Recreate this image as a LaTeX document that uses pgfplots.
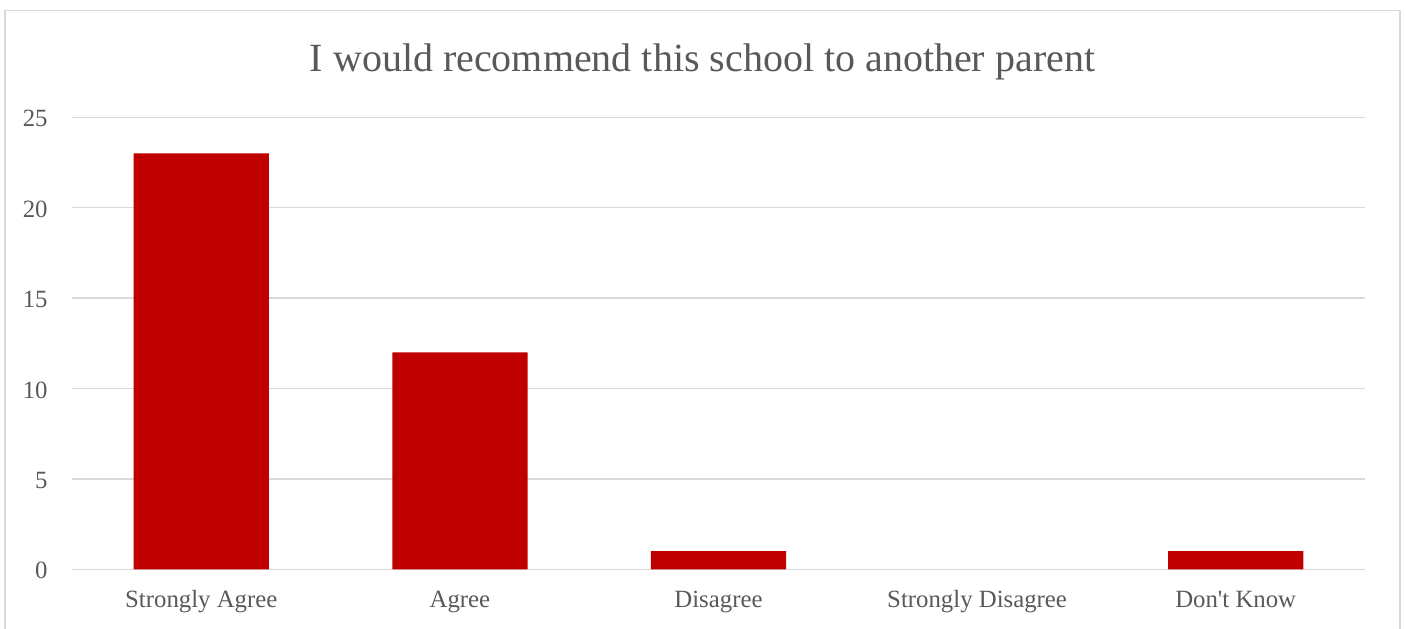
\documentclass[border=0pt]{standalone}
\usepackage{pgfplots}
\pgfplotsset{compat=1.18}
\usepackage{fontspec}
\setmainfont{Liberation Serif}
\definecolor{barred}{HTML}{C00000}
\definecolor{txt}{HTML}{595959}
\definecolor{gridc}{HTML}{D9D9D9}
\begin{document}
\begin{tikzpicture}[x=1pt,y=1pt]
\useasboundingbox (0,0) rectangle (703,314);
\draw[gridc, line width=0.75pt] (2.5,-2) -- (2.5,308.75) -- (700,308.75) -- (700,-2);
\node[anchor=base, font=\fontsize{20}{24}\selectfont, text=txt] at (351.25,278) {I would recommend this school to another parent};
\begin{axis}[
  at={(36pt,29.35pt)}, anchor=south west,
  scale only axis, width=646.5pt, height=226pt,
  xmin=-0.5, xmax=4.5, ymin=0, ymax=25,
  ytick={0,5,10,15,20,25},
  xtick={0,1,2,3,4},
  xticklabels={Strongly Agree, Agree, Disagree, Strongly Disagree, Don\textquotesingle t Know},
  ymajorgrids, grid style={gridc, line width=0.75pt},
  axis line style={draw=none},
  major tick length=0pt,
  ticklabel style={font=\fontsize{12.4}{14}\selectfont, text=txt},
  /pgf/number format/assume math mode=true,
  yticklabel style={anchor=east, inner sep=0pt, xshift=-12pt, yshift=-0.7pt},
  xticklabel style={anchor=base, inner sep=0pt, yshift=-18.85pt},
  ybar, bar width=67.6pt,
]
% Strongly Disagree = 0 (no visible bar)
\addplot[fill=barred, draw=none] coordinates {(0,23) (1,12) (2,1) (4,1)};
\end{axis}
\end{tikzpicture}
\end{document}
